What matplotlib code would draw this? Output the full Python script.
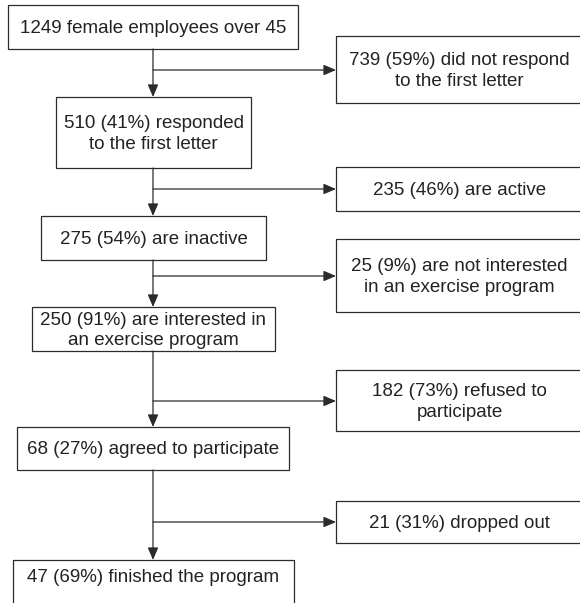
import matplotlib
matplotlib.use("Agg")
import matplotlib.pyplot as plt
from matplotlib.patches import Rectangle

# Texte der Kästen (links: Hauptpfad, rechts: Ausscheider)
main_labels = [
    "1249 female employees over 45",
    "510 (41%) responded\nto the first letter",
    "275 (54%) are inactive",
    "250 (91%) are interested in\nan exercise program",
    "68 (27%) agreed to participate",
    "47 (69%) finished the program",
]
side_labels = [
    "739 (59%) did not respond\nto the first letter",
    "235 (46%) are active",
    "25 (9%) are not interested\nin an exercise program",
    "182 (73%) refused to\nparticipate",
    "21 (31%) dropped out",
]

# Layout in Pixeln (x0, x1, y0, y1)
main_boxes = [
    (8, 298, 5, 49),
    (56, 251, 97, 168),
    (41, 266, 216, 260),
    (32, 275, 307, 351),
    (17, 289, 427, 470),
    (13, 294, 560, 620),
]
side_boxes = [
    (336, 583, 36, 103),
    (336, 583, 167, 211),
    (336, 583, 239, 312),
    (336, 583, 370, 431),
    (336, 583, 501, 543),
]
branch_y = [70, 189, 276, 401, 522]
spine_x = 153

col = "#2b2b2b"
lw = 0.9
fs = 13.5

fig = plt.figure(figsize=(5.80, 6.03), dpi=100)
ax = fig.add_axes([0, 0, 1, 1])
ax.set_xlim(0, 580)
ax.set_ylim(603, 0)
ax.axis("off")

def box(b, text):
    x0, x1, y0, y1 = b
    ax.add_patch(Rectangle((x0, y0), x1 - x0, y1 - y0, fill=False,
                           edgecolor=col, linewidth=lw))
    yc = (y0 + y1) / 2 if y1 < 603 else (y0 + 593) / 2
    ax.text((x0 + x1) / 2, yc + 1.5, text, ha="center", va="center",
            fontsize=fs, color="#222222", family="Liberation Sans",
            linespacing=1.25)

for b, t in zip(main_boxes, main_labels):
    box(b, t)
for b, t in zip(side_boxes, side_labels):
    box(b, t)

arrow = dict(arrowstyle="-|>,head_length=0.75,head_width=0.32", color=col,
             lw=lw, shrinkA=0, shrinkB=0)

# senkrechte Pfeile zwischen den Hauptkästen
for i in range(len(main_boxes) - 1):
    ax.annotate("", xy=(spine_x, main_boxes[i + 1][2]),
                xytext=(spine_x, main_boxes[i][3]), arrowprops=arrow)

# waagrechte Abzweige zu den Seitenkästen
for y, b in zip(branch_y, side_boxes):
    ax.annotate("", xy=(b[0], y), xytext=(spine_x, y), arrowprops=arrow)

fig.savefig("out.png", dpi=100)
